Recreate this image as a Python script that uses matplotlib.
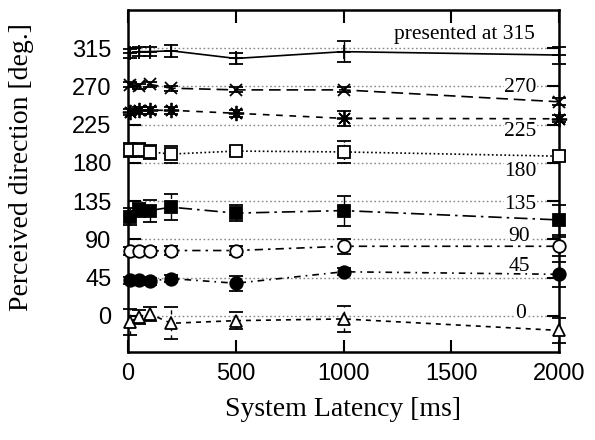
import matplotlib
matplotlib.use("Agg")
import matplotlib.pyplot as plt
import numpy as np

# ---- data ----
latency = [8, 50, 100, 200, 500, 1000, 2000]
presented = [315, 270, 225, 180, 135, 90, 45, 0]

p315 = [309, 311, 311, 312, 303, 311, 307]
e315 = [5, 5, 5, 7, 6.5, 12, 10]
p270 = [272, 270, 272.5, 268, 266, 266, 252]
e270 = [3, 3, 3, 3, 3, 3, 4]
p225 = [240, 242, 242, 242, 238.5, 232.5, 232]
e225 = [4, 4, 4, 4, 4, 9, 4]
p180 = [195, 195, 193, 190.5, 194, 193, 188]
e180 = [8, 8, 8, 10, 5, 13, 6]
p135 = [117, 125, 124, 128, 121, 124, 113]
e135 = [10, 8, 13, 15, 9.5, 17.6, 18]
p90 = [76.5, 76.5, 76.5, 77, 77, 82, 82]
e90 = [5, 5, 5, 5, 5, 9, 11]
p45 = [42, 42, 41, 44, 38.5, 52, 49]
e45 = [4, 4, 4, 4, 9, 4, 15]
p0 = [-7, -1, 2.5, -8.6, -5.5, -3.5, -17]
e0 = [15, 8, 8, 18.6, 10, 15.6, 15]

series = [p315, p270, p225, p180, p135, p90, p45, p0]
errors = [e315, e270, e225, e180, e135, e90, e45, e0]

ref_labels = ["presented at 315", "270", "225", "180", "135", "90", "45", "0"]
label_x = [1889, 1896, 1896, 1896, 1896, 1866, 1866, 1845]
label_y = [330.6, 268.6, 216.8, 169.8, 130.6, 93.3, 58, 2.4]

xticks = [0, 500, 1000, 1500, 2000]
yticks = [0, 45, 90, 135, 180, 225, 270, 315]

# ---- styles ----
markers = ['+', 'x', (8, 2, 0), 's', 's', 'o', 'o', '^']
mfaces = ['none', 'none', 'none', 'white', 'black', 'white', 'black', 'white']
msizes = [10, 9, 11, 9, 9, 9, 9, 9]
lstyles = ['-', (0, (7, 3.5)), (0, (4, 4)), (0, (1, 1.5)),
           (0, (8, 3, 1.5, 3)), (0, (5, 3, 1.5, 3)), (0, (4, 3, 1, 3)), (0, (3, 3))]

fig = plt.figure(figsize=(5.95, 4.4), dpi=100)
ax = fig.add_axes([128/595, 1-352/440, (559-128)/595, (352-10)/440])

for v in presented:
    ax.axhline(v, color='#888888', linestyle=(0, (1.2, 1.8)), linewidth=1.0, zorder=1)

for i in range(len(series)):
    c = ax.errorbar(latency, series[i], yerr=errors[i], color='black',
                    linestyle=lstyles[i], linewidth=1.2, marker=markers[i],
                    markersize=msizes[i], markerfacecolor=mfaces[i],
                    markeredgecolor='black', markeredgewidth=1.3,
                    elinewidth=1.0, capsize=5, capthick=1.0, zorder=3,
                    clip_on=False)
    for bl in c[2]:
        if i > 0:
            bl.set_linestyle(lstyles[i])

for t, x, y in zip(ref_labels, label_x, label_y):
    ax.text(x, y, t, ha='right', va='center', fontsize=15.5,
            family='Liberation Serif', zorder=2,
            bbox=dict(facecolor='white', edgecolor='none', pad=0.5))

ax.set_xlim(0, 2000)
ax.set_ylim(-42.4, 360)
ax.set_xticks(xticks)
ax.set_yticks(yticks)
ax.tick_params(direction='in', length=9, width=1.5, top=True, right=True,
               labelsize=17)
ax.tick_params(axis='x', pad=8)
ax.tick_params(axis='y', pad=12)
for lab in ax.get_xticklabels() + ax.get_yticklabels():
    lab.set_family('Liberation Sans')
for s in ax.spines.values():
    s.set_linewidth(1.8)

fig.text(343/595, 1-409/440, "System Latency [ms]", ha='center', va='center',
         fontsize=20, family='Liberation Serif')
fig.text(22/595, 1-167/440, "Perceived direction [deg.]", ha='center', va='center',
         rotation=90, fontsize=20, family='Liberation Serif')

fig.savefig("out.png", dpi=100)
